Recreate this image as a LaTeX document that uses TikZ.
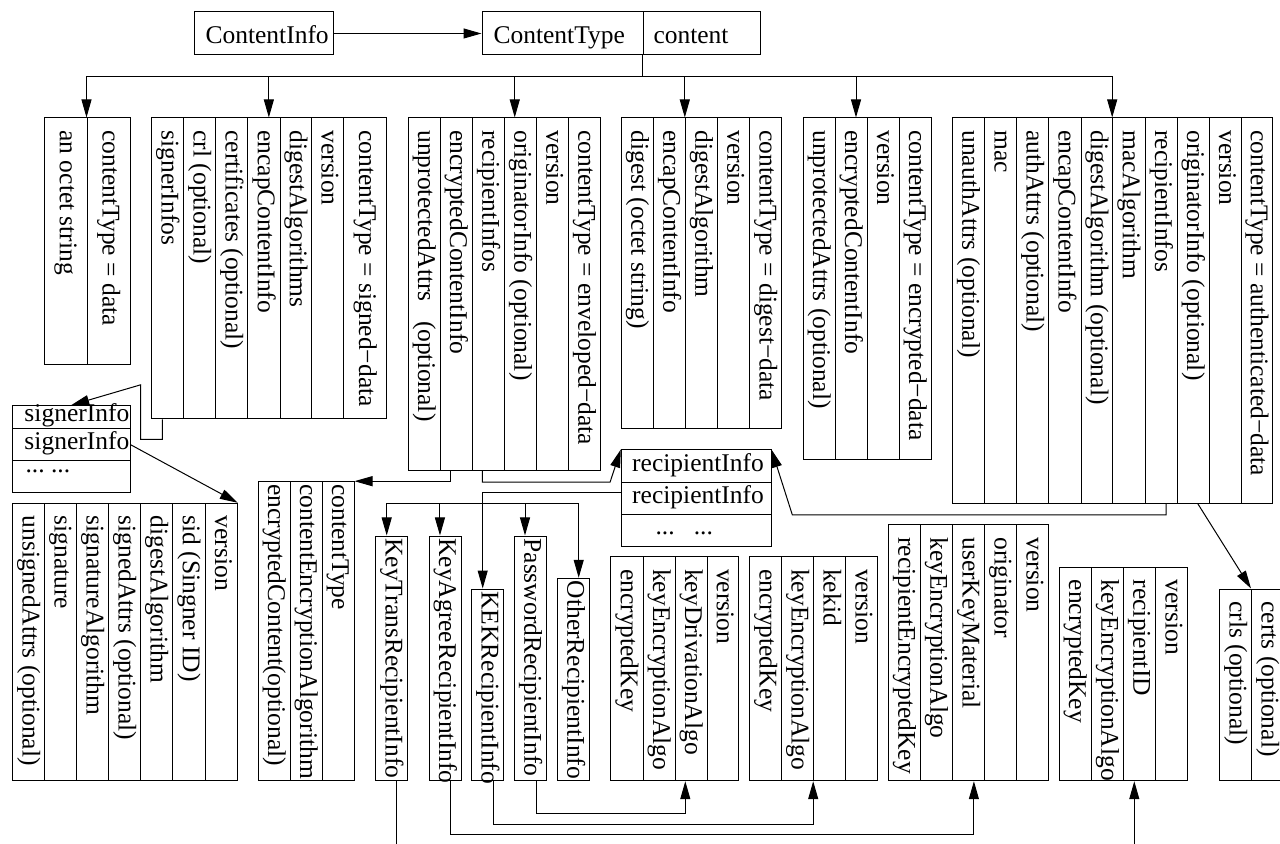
\documentclass[tikz,border=0pt]{standalone}
\usepackage{fontspec}
\setmainfont{Liberation Serif}
\usepackage{tikz}
\usetikzlibrary{arrows.meta,fit,calc}

% record: name, right edge, top, bottom, text gap, {left edge/field, ...} from right to left
\newcommand{\recordbox}[6]{%
  \foreach \xl/\txt [count=\i, remember=\xl as \xr (initially #2)] in {#6} {%
    \node[fieldcell, fit={(\xl,#3) (\xr,#4)}] (#1-\i) {};
    \node[fieldtext] at ({(\xl+\xr)/2-6},{#3+#5}) {\txt};
  }%
}
\newcommand{\dotgroup}{...}

\begin{document}
\begin{tikzpicture}[x=0.5pt, y=-0.5pt, line width=0.5pt,
    every node/.style={font=\fontsize{12.75pt}{15pt}\selectfont},
    fieldcell/.style={draw, inner sep=0pt},
    fieldtext/.style={rotate=-90, anchor=base west, inner sep=0pt},
    plaintext/.style={anchor=base west, inner sep=0pt},
    link/.style={-{Triangle[length=9pt,width=5pt]}}]
    \useasboundingbox (0,0) rectangle (1280,844);

    % ContentInfo
    \node[fieldcell, fit={(194,12) (333,55)}] (ci) {};
    \node[plaintext] at (205,43.3) {ContentInfo};
    \node[fieldcell, fit={(482,12) (643,55)}] (ctype) {};
    \node[plaintext] at (493,43.3) {ContentType};
    \node[fieldcell, fit={(643,12) (760,55)}] (cont) {};
    \node[plaintext] at (653,43.3) {content};
    \draw[link] (ci) -- (ctype);

    % content types
    \recordbox{data}{130}{118}{364.3}{12}{87/contentType = data, 44.7/an octet string}
    \recordbox{sd}{386.7}{118}{419}{12}{343.7/contentType = signed−data, 311.7/version,
        280/digestAlgorithms, 247.7/encapContentInfo, 215.7/certificates (optional),
        183.3/crl (optional), 151.7/signerInfos}
    \recordbox{env}{600}{118}{470.7}{12}{568.7/contentType = enveloped−data, 536/version,
        504.7/originatorInfo (optional), 472/recipientInfos, 440/encryptedContentInfo,
        408/unprotectedAttrs\hspace{0.75em}(optional)}
    \recordbox{dig}{781.7}{118}{428.3}{12}{749.3/contentType = digest−data, 717.3/version,
        685.3/digestAlgorithm, 653.3/encapContentInfo, 621.3/digest (octet string)}
    \recordbox{enc}{931}{118}{460}{12}{899/contentType = encrypted−data, 867/version,
        835/encryptedContentInfo, 803.3/unprotectedAttrs (optional)}
    \recordbox{auth}{1272.7}{118}{503.3}{12}{1241/contentType = authenticated−data,
        1209.3/version, 1177/originatorInfo (optional), 1145/recipientInfos,
        1112.7/macAlgorithm, 1081/digestAlgorithm (optional), 1048.3/encapContentInfo,
        1016.7/authAttrs (optional), 984.3/mac, 952.3/unauthAttrs (optional)}

    % content bus
    \coordinate (bus) at ($(cont.south west)+(0,21)$);
    \draw (cont.south west) -- (bus);
    \draw[link] (bus) -| (data-1.north west);
    \draw[link] (bus) -| ($(sd-4.north)+(5,0)$);
    \draw[link] (bus) -| ($(env-3.north)+(-5.6,0)$);
    \draw[link] (bus) -| (dig-3.north west);
    \draw[link] (bus) -| ($(enc-3.north)+(5,0)$);
    \draw[link] (bus) -| (auth-5.north west);

    % signer infos
    \node[fieldcell, fit={(12.3,405.7) (130,428.3)}] (si-1) {};
    \node[plaintext] at (24,422) {signerInfo};
    \node[fieldcell, fit={(12.3,428.3) (130,461)}] (si-2) {};
    \node[plaintext] at (24,450) {signerInfo};
    \node[fieldcell, fit={(12.3,461) (130,492.3)}] (si-3) {};
    \node[plaintext] at (25,472.5) {\dotgroup\ \dotgroup};
    \recordbox{sif}{237.3}{503.3}{780.7}{12}{205/version, 172.7/sid (Singner ID),
        140.7/digestAlgorithm, 108.7/signedAttrs (optional), 76.7/signatureAlgorithm,
        44.7/signature, 12.3/unsignedAttrs (optional)}
    \draw[link] ($(sd-7.south)+(-5.2,0)$) |- ++(-21.6,20) -- ++(0,-54.7) -- (si-1.north);
    \draw[link] (si-2.east) -- (sif-1.north east);

    % encrypted content info
    \recordbox{eci}{354}{481.7}{780.7}{2}{322.3/contentType,
        290/contentEncryptionAlgorithm, 258.3/encryptedContent(optional)}
    \draw[link] ($(env-5.south)+(-5.3,0)$) |- (eci-1.north east);

    % recipient infos
    \node[fieldcell, fit={(621.3,450) (771,482.3)}] (ri-1) {};
    \node[plaintext] at (631.7,471.7) {recipientInfo};
    \node[fieldcell, fit={(621.3,482.3) (771,514.3)}] (ri-2) {};
    \node[plaintext] at (631.7,503.3) {recipientInfo};
    \node[fieldcell, fit={(621.3,514.3) (771,546)}] (ri-3) {};
    \node[plaintext] at (655,535) {\dotgroup\hspace{0.75em}\dotgroup};
    \draw[link] ($(env-4.south)+(-6,0)$) |- ++(127.7,11) -- (ri-1.north west);
    \draw[link] ($(auth-4.south)+(5,0)$) |- ++(-373.7,11) -- (ri-1.north east);

    % certificates
    \recordbox{cert}{1283.5}{589}{780.7}{12}{1251.5/certs (optional), 1219.5/crls (optional)}
    \draw[link] ($(auth-3.south)+(4.7,0)$) -- (cert-1.north west);

    % recipient info choices
    \recordbox{ktri}{407.7}{536}{780.7}{2}{375.7/KeyTransRecipientInfo}
    \recordbox{kari}{461.3}{536}{780.7}{2}{429/KeyAgreeRecipientInfo}
    \recordbox{kek}{503.7}{589}{780.7}{2}{471.7/KEKRecipientInfo}
    \recordbox{pwri}{546.3}{536}{780.7}{2}{514.3/PasswordRecipientInfo}
    \recordbox{ori}{589.3}{578.3}{780.7}{2}{557.3/OtherRecipientInfo}
    \coordinate (rbus) at (482.7,503.3);
    \draw[link] ($(ri-2.west)+(0,-5.6)$) -| ($(kek-1.north)+(-5,0)$);
    \draw[link] (rbus) -| ($(ktri-1.north)+(-5,0)$);
    \draw[link] (rbus) -| ($(kari-1.north)+(-5.2,0)$);
    \draw[link] (rbus) -| ($(pwri-1.north)+(-5.3,0)$);
    \draw[link] (rbus) -| ($(ori-1.north)+(5.4,0)$);

    % recipient info fields
    \recordbox{pwrif}{738.7}{556.7}{780.7}{12}{707/version, 675/keyDrivationAlgo,
        643/keyEncryptionAlgo, 610.7/encryptedKey}
    \recordbox{kekf}{877.7}{556.7}{780.7}{12}{845.7/version, 813.7/kekid,
        781.7/keyEncryptionAlgo, 749.6/encryptedKey}
    \recordbox{karif}{1048.5}{525}{780.7}{12}{1016.5/version, 984.5/originator,
        952.5/userKeyMaterial, 920.4/keyEncryptionAlgo, 888.4/recipientEncryptedKey}
    \recordbox{ktrif}{1187.7}{567.3}{780.7}{12}{1155.6/version, 1123.3/recipientID,
        1091.2/keyEncryptionAlgo, 1059.2/encryptedKey}

    % links to fields
    \draw ($(ktri-1.south)+(5,0)$) -- ++(0,63.3);
    \coordinate (ktriin) at (1134.3,844);
    \draw[link] (ktriin) -- (ktriin |- ktrif-2.south);
    \draw[link] ($(kari-1.south)+(5,0)$) -- ++(0,53.3) -| ($(karif-3.south)+(5.4,0)$);
    \draw[link] ($(kek-1.south)+(5.3,0)$) -- ++(0,43) -| (kekf-2.south west);
    \draw[link] ($(pwri-1.south)+(6,0)$) -- ++(0,32.6) -| ($(pwrif-2.south)+(-5.7,0)$);

\end{tikzpicture}
\end{document}
